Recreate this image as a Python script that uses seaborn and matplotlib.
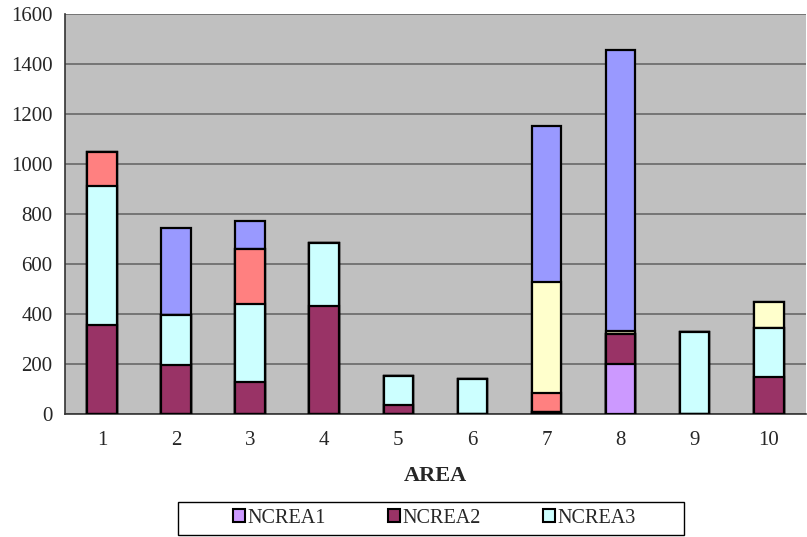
import numpy as np
import pandas as pd
import matplotlib
matplotlib.use("Agg")
import matplotlib.pyplot as plt
import seaborn as sns
from matplotlib.patches import Patch, Rectangle

# data
areas = ["1", "2", "3", "4", "5", "6", "7", "8", "9", "10"]
ncrea1 = [0, 0, 0, 0, 0, 0, 0, 200, 0, 0]
ncrea2 = [358, 197, 128, 432, 38, 0, 8, 121, 0, 147]
ncrea3 = [552, 199, 313, 250, 115, 140, 0, 0, 330, 198]
ncrea4 = [137, 0, 219, 0, 0, 0, 78, 0, 0, 0]
ncrea5 = [0, 0, 0, 0, 0, 0, 443, 12, 0, 104]
ncrea6 = [0, 347, 112, 0, 0, 0, 624, 1123, 0, 0]

series_names = ["NCREA1", "NCREA2", "NCREA3", "NCREA4", "NCREA5", "NCREA6"]
series_vals = [ncrea1, ncrea2, ncrea3, ncrea4, ncrea5, ncrea6]
colors = ["#CC99FF", "#993366", "#CCFFFF", "#FF8080", "#FFFFCC", "#9999FF"]

sns.set_style("white")
plt.rcParams['font.family'] = ['Liberation Serif', 'DejaVu Serif']

fig = plt.figure(figsize=(8.07, 5.37), dpi=100)
ax = fig.add_axes([0.0805, 0.229, 0.918, 0.745])
ax.set_facecolor("#C0C0C0")

# stacked bars: draw cumulative totals from the top layer down
cum = np.cumsum(np.array(series_vals), axis=0)
for i in range(len(series_names) - 1, -1, -1):
    df = pd.DataFrame({"AREA": areas, "val": cum[i]})
    sns.barplot(data=df, x="AREA", y="val", order=areas, color=colors[i],
                width=0.4, edgecolor="black", linewidth=1.6, saturation=1,
                ax=ax, zorder=3)

ax.set_ylim(0, 1600)
ax.set_xlim(-0.5, 9.5)
ax.set_yticks(range(0, 1601, 200))
ax.yaxis.grid(True, color="#606060", linewidth=1.1, zorder=0)
ax.set_axisbelow(True)

ax.set_xticks(np.arange(0.5, 9.5, 1), minor=True)
ax.tick_params(axis="x", which="major", length=0, labelsize=15, pad=12)
ax.tick_params(axis="x", which="minor", length=6, width=1, color="#333333", direction="out")
ax.tick_params(axis="y", length=6, width=1, color="#333333", labelsize=15, pad=3)

for s in ["top", "right"]:
    ax.spines[s].set_visible(False)
for s in ["left", "bottom"]:
    ax.spines[s].set_color("#333333")
    ax.spines[s].set_linewidth(1.2)

ax.set_ylabel("")
ax.set_xlabel("AREA", fontsize=16, fontweight="bold", labelpad=12)

# legend box (Excel style: wide frame, only first three entries fit)
fig.add_artist(Rectangle((0.2206, 0.004), 0.627, 0.061, transform=fig.transFigure,
                         facecolor="white", edgecolor="black", linewidth=1.0))
handles = [Patch(facecolor=colors[i], edgecolor="black", linewidth=1.5, label=series_names[i])
           for i in range(3)]
leg = fig.legend(handles=handles, loc="center", bbox_to_anchor=(0.538, 0.0345),
                 ncol=3, fontsize=14.5, frameon=False,
                 handlelength=0.6, handleheight=0.6, handletextpad=0.1,
                 columnspacing=3.1, borderpad=0.0, borderaxespad=0)

fig.savefig("out.png", dpi=100)
